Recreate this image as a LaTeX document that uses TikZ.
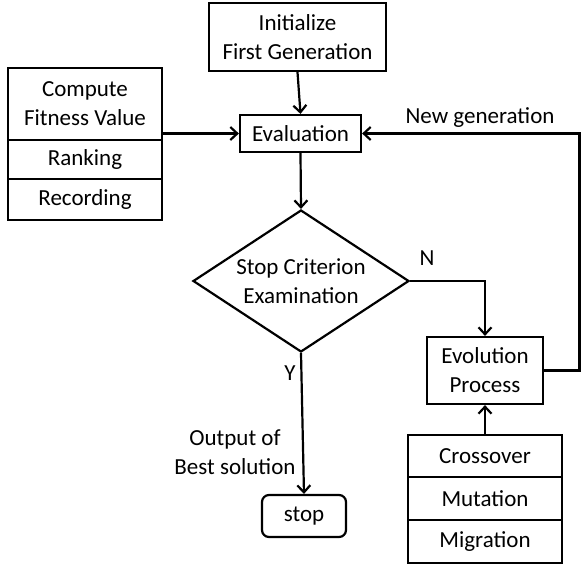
\documentclass[tikz,border=0pt]{standalone}
\usepackage{fontspec}
\setmainfont{Carlito}
\usetikzlibrary{shapes.geometric,arrows.meta}
\begin{document}
\begin{tikzpicture}[x=1pt,y=-1pt,
  every node/.style={font=\fontsize{23}{29}\selectfont, inner sep=0pt},
  box/.style={draw, line width=2.2pt, align=center},
  lbl/.style={align=center},
  conn/.style={line width=2.2pt},
  arr/.style={conn, -{Straight Barb[length=7pt,width=13pt,line width=2.2pt]}}]
\useasboundingbox (0,0) rectangle (582,568);
\node[box, minimum width=177, minimum height=68] (init) at (297.5,37) {Initialize\\First Generation};
\node[box, minimum width=154, minimum height=72] (comp) at (85,104) {Compute\\Fitness Value};
\node[box, minimum width=154, minimum height=39] (rank) at (85,159.5) {Ranking};
\node[box, minimum width=154, minimum height=41] (rec) at (85,199.5) {Recording};
\node[box, minimum width=121, minimum height=37] (eval) at (300.5,133.5) {Evaluation};
\node[box, diamond, minimum width=216, minimum height=142] (dia) at (301,281) {};
\node[lbl] (diatext) at (dia.center) {Stop Criterion\\Examination};
\node[box, minimum width=116, minimum height=67] (evo) at (485,370.5) {Evolution\\Process};
\node[box, rounded corners=7pt, minimum width=84, minimum height=42] (stop) at (304,516) {stop};
\node[box, minimum width=154, minimum height=42] (cross) at (485,456) {Crossover};
\node[box, minimum width=154, minimum height=43] (mut) at (485,498.5) {Mutation};
\node[box, minimum width=154, minimum height=43] (mig) at (485,541.5) {Migration};
\node[lbl] (newgen) at (480,118) {New generation};
\node[lbl] (nlab) at (427,258) {N};
\node[lbl] (ylab) at (290,373) {Y};
\node[lbl] (outlab) at (235,452) {Output of\\Best solution};
\coordinate (rt) at (579.5,370.5);
\draw[arr] (init.south) -- (eval.north);
\draw[arr] (comp.east |- eval.west) -- (eval.west);
\draw[arr] (eval.south) -- (dia.north);
\draw[arr] (dia.east) -| (evo.north);
\draw[arr] (evo.east) -- (rt) |- (eval.east);
\draw[arr] (dia.south) -- (stop.north);
\draw[arr] (cross.north) -- (evo.south);
\end{tikzpicture}
\end{document}
